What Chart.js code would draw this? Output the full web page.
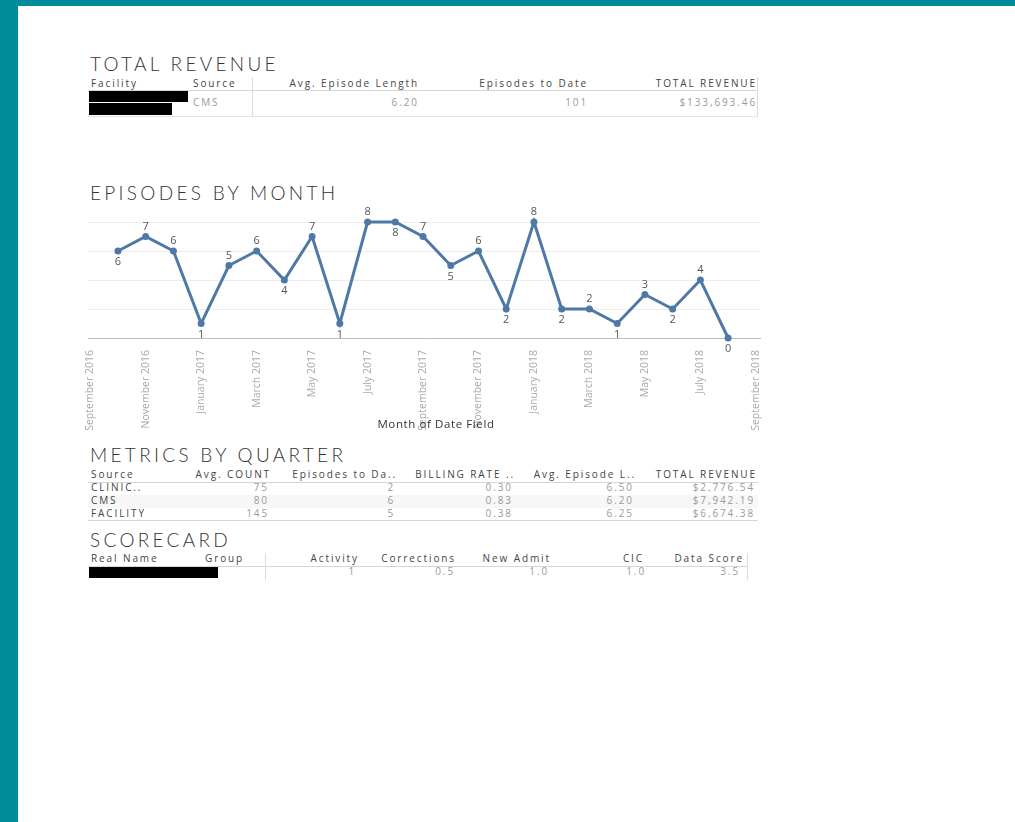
<!DOCTYPE html>
<html>
<head>
<meta charset="utf-8">
<script src="https://cdn.jsdelivr.net/npm/chart.js@4"></script>
<style>
  html, body { margin: 0; padding: 0; }
  body { width: 1015px; height: 822px; background: #fff; position: relative; overflow: hidden;
         font-family: "Open Sans", sans-serif; }
  #topbar { position: absolute; left: 0; top: 0; width: 1015px; height: 6px; background: #008c99; }
  #leftbar { position: absolute; left: 0; top: 0; width: 18px; height: 822px; background: #008c99; }
  .title { position: absolute; left: 90px; font-family: Lato, sans-serif; font-weight: 300;
           font-size: 19px; letter-spacing: 3.3px; color: #333; line-height: 20px; }
  .c { position: absolute; font-size: 10px; line-height: 11px; letter-spacing: 1.9px; white-space: nowrap; }
  .hd { color: #444; }
  .val { color: #9a9a9a; }
  .dim { color: #444; }
  .hl { position: absolute; height: 1px; background: #d6d6d6; }
  .vl { position: absolute; width: 1px; background: #dcdcdc; }
  .redact { position: absolute; background: #000; }
  #wrap { position: absolute; left: 80px; top: 200px; width: 690px; height: 232px; }
</style>
</head>
<body>
<div id="topbar"></div>
<div id="leftbar"></div>

<div class="title" style="top:54px">TOTAL REVENUE</div>
<div class="title" style="top:183px">EPISODES BY MONTH</div>
<div class="title" style="top:445px">METRICS BY QUARTER</div>
<div class="title" style="top:530px">SCORECARD</div>

<div id="wrap"><canvas id="lineChart"></canvas></div>

<script>
// episodes by month
const months = [
  'September 2016', 'October 2016', 'November 2016', 'December 2016',
  'January 2017', 'February 2017', 'March 2017', 'April 2017', 'May 2017', 'June 2017',
  'July 2017', 'August 2017', 'September 2017', 'October 2017', 'November 2017', 'December 2017',
  'January 2018', 'February 2018', 'March 2018', 'April 2018', 'May 2018', 'June 2018',
  'July 2018', 'August 2018', 'September 2018'
];
const episodes = [null, 6, 7, 6, 1, 5, 6, 4, 7, 1, 8, 8, 7, 5, 6, 2, 8, 2, 2, 1, 3, 2, 4, 0, null];
const yTicks = [0, 2, 4, 6, 8];
const xTitle = 'Month of Date Field';

// tables
const revenueHeaders = ['Facility', 'Source', 'Avg. Episode Length', 'Episodes to Date', 'TOTAL REVENUE'];
const revenueRow = ['CMS', '6.20', '101', '$133,693.46'];

const quarterHeaders = ['Source', 'Avg. COUNT', 'Episodes to Da..', 'BILLING RATE ..', 'Avg. Episode L..', 'TOTAL REVENUE'];
const quarterSources = ['CLINIC..', 'CMS', 'FACILITY'];
const avgCount = ['75', '80', '145'];
const episodesToDate = ['2', '6', '5'];
const billingRate = ['0.30', '0.83', '0.38'];
const avgEpisodeLength = ['6.50', '6.20', '6.25'];
const quarterRevenue = ['$2,776.54', '$7,942.19', '$6,674.38'];

const scoreHeaders = ['Real Name', 'Group', 'Activity', 'Corrections', 'New Admit', 'CIC', 'Data Score'];
const scoreRow = ['1', '0.5', '1.0', '1.0', '3.5'];

// little helpers for the html tables
function cell(text, x, y, cls, right) {
    const d = document.createElement('div');
    d.className = 'c ' + cls;
    d.textContent = text;
    d.style.top = (y - 6) + 'px';
    if (right) {
        d.style.right = (1015 - x) + 'px';
    } else {
        d.style.left = x + 'px';
    }
    document.body.appendChild(d);
}
function line(cls, x, y, w, h, color) {
    const d = document.createElement('div');
    d.className = cls;
    d.style.left = x + 'px';
    d.style.top = y + 'px';
    if (w) d.style.width = w + 'px';
    if (h) d.style.height = h + 'px';
    if (color) d.style.background = color;
    document.body.appendChild(d);
}
function box(x, y, w, h) {
    const d = document.createElement('div');
    d.className = 'redact';
    d.style.cssText = `left:${x}px;top:${y}px;width:${w}px;height:${h}px`;
    document.body.appendChild(d);
}

// TOTAL REVENUE
cell(revenueHeaders[0], 91, 84, 'hd');
cell(revenueHeaders[1], 193, 84, 'hd');
cell(revenueHeaders[2], 419, 84, 'hd', true);
cell(revenueHeaders[3], 588, 84, 'hd', true);
cell(revenueHeaders[4], 757, 84, 'hd', true);
line('hl', 88, 90, 670);
line('vl', 252, 77, 0, 40);
line('vl', 757, 77, 0, 40);
box(89, 91, 99, 11);
box(89, 103, 83, 12);
cell(revenueRow[0], 193, 103, 'val');
cell(revenueRow[1], 419, 103, 'val', true);
cell(revenueRow[2], 588, 103, 'val', true);
cell(revenueRow[3], 757, 103, 'val', true);
line('hl', 88, 116, 670, 0, '#e2e2e2');

// METRICS BY QUARTER
const qRight = [0, 271, 397, 515, 636, 757];
cell(quarterHeaders[0], 91, 475, 'hd');
for (let i = 1; i < quarterHeaders.length; i++) cell(quarterHeaders[i], qRight[i], 475, 'hd', true);
line('hl', 88, 482, 670);
line('hl', 88, 495, 670, 13, '#f7f7f7');
quarterSources.forEach((s, r) => {
    const y = 488 + r * 13;
    cell(s, 91, y, 'dim');
    const vals = [avgCount[r], episodesToDate[r], billingRate[r], avgEpisodeLength[r], quarterRevenue[r]];
    vals.forEach((v, i) => cell(v, qRight[i + 1] - 2, y, 'val', true));
});
line('hl', 88, 520, 670);

// SCORECARD
cell(scoreHeaders[0], 91, 559, 'hd');
cell(scoreHeaders[1], 205, 559, 'hd');
const sRight = [359, 456, 551, 644, 744];
for (let i = 2; i < scoreHeaders.length; i++) cell(scoreHeaders[i], sRight[i - 2], 559, 'hd', true);
line('hl', 88, 566, 660);
line('vl', 265, 553, 0, 27);
line('vl', 747, 553, 0, 27);
box(89, 567, 129, 11);
const sValRight = [356, 455, 549, 646, 740];
scoreRow.forEach((v, i) => cell(v, sValRight[i], 572, 'val', true));

// point labels, above on peaks, below on valleys
function labelSide(i) {
    const v = episodes[i], p = episodes[i - 1], n = episodes[i + 1];
    if (p == null) return v < n ? 'below' : 'above';
    if (n == null) return v <= p ? 'below' : 'above';
    if (v < p && v <= n) return 'below';
    if (v === p && labelSide(i - 1) === 'above') return 'below';
    return 'above';
}

const pointLabels = {
    id: 'pointLabels',
    afterDatasetsDraw(chart) {
        const c = chart.ctx;
        const meta = chart.getDatasetMeta(0);
        const area = chart.chartArea;
        c.save();
        c.font = '11px "Open Sans", sans-serif';
        c.fillStyle = '#555';
        c.textAlign = 'center';
        c.textBaseline = 'middle';
        meta.data.forEach((pt, i) => {
            if (episodes[i] == null) return;
            const dy = labelSide(i) === 'above' ? -10 : 11;
            c.fillText(String(episodes[i]), pt.x, pt.y + dy);
        });
        // axis title, sits a bit right of centre like the original
        c.fillStyle = '#333';
        c.font = '11.5px "Open Sans", sans-serif';
        if ('letterSpacing' in c) c.letterSpacing = '0.6px';
        c.fillText(xTitle, (area.left + area.right) / 2 + 12, chart.height - 7);
        c.restore();
    }
};

const ctx = document.getElementById('lineChart').getContext('2d');

const myChart = new Chart(ctx, {
    type: 'line',
    data: {
        datasets: [{
            label: 'Episodes',
            data: episodes.map((v, i) => ({x: i, y: v})),
            borderColor: '#4e79a7',
            backgroundColor: '#4e79a7',
            borderWidth: 3,
            pointRadius: 2,
            pointHoverRadius: 2,
            tension: 0,
            spanGaps: false,
            clip: false
        }]
    },
    options: {
        responsive: true,
        maintainAspectRatio: false,
        animation: false,
        layout: { padding: { left: 8, right: 10, top: 22, bottom: 0 } },
        plugins: { legend: { display: false }, tooltip: { enabled: false } },
        scales: {
            x: {
                type: 'linear',
                min: -0.08,
                max: 24.15,
                afterBuildTicks: axis => {
                    axis.ticks = months.map((m, i) => ({value: i})).filter(t => t.value % 2 === 0);
                },
                afterFit: axis => {
                    axis.height = 94;
                    axis.paddingLeft = 0;
                    axis.paddingRight = 0;
                },
                grid: { display: false, drawTicks: false },
                border: { display: true, color: '#bbb', dash: [2, 2] },
                ticks: {
                    autoSkip: false,
                    maxRotation: 90,
                    minRotation: 90,
                    padding: 12,
                    color: '#aaa',
                    font: { family: '"Open Sans", sans-serif', size: 10.5 },
                    callback: v => months[v]
                }
            },
            y: {
                min: 0,
                max: 8,
                afterBuildTicks: axis => { axis.ticks = yTicks.map(v => ({value: v})); },
                afterFit: axis => { axis.width = 0; },
                grid: {
                    drawTicks: false,
                    color: c => c.tick.value === 0 ? 'rgba(0,0,0,0)' : '#ececec'
                },
                border: { display: false },
                ticks: { display: false }
            }
        }
    },
    plugins: [pointLabels]
});
myChart.update();
</script>
</body>
</html>
